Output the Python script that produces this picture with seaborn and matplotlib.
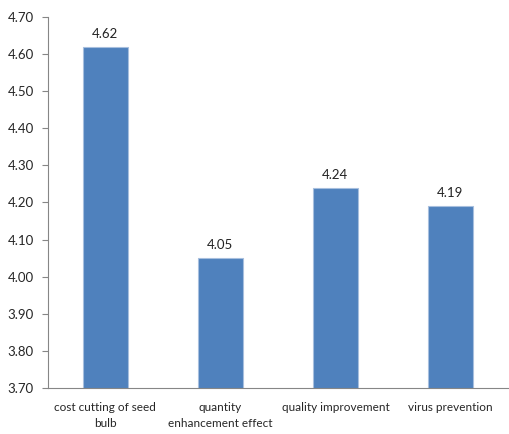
import matplotlib
matplotlib.use("Agg")
import matplotlib.pyplot as plt
import seaborn as sns
import pandas as pd
import numpy as np

# Data
categories = ["cost cutting of seed\nbulb", "quantity\nenhancement effect",
              "quality improvement", "virus prevention"]
scores = [4.62, 4.05, 4.24, 4.19]

df = pd.DataFrame({"Category": categories, "Score": scores})

sns.set_style("white")
plt.rcParams["font.family"] = ["Lato", "DejaVu Sans"]
plt.rcParams["text.color"] = "#222222"

fig = plt.figure(figsize=(5.09, 4.34), dpi=100)
ax = fig.add_axes([0.094, 0.106, 0.904, 0.855])

sns.barplot(df, x="Category", y="Score", color="#4F81BD", width=0.39,
            edgecolor="#A7BFDE", linewidth=0.8, saturation=1, ax=ax)

ax.set_ylim(3.70, 4.70)
ax.set_xlim(-0.5, 3.5)
yticks = np.arange(3.70, 4.701, 0.10)
ax.set_yticks(yticks)
ax.set_yticklabels([f"{v:.2f}" for v in yticks], fontsize=9.5)

# Category tick marks sit between the bars
ax.set_xticks(np.arange(-0.5, 3.6, 1.0), minor=True)
ax.tick_params(axis="x", which="major", length=0, labelsize=8.5, pad=10)
ax.tick_params(axis="x", which="minor", length=4, color="#868686", direction="out")
ax.tick_params(axis="y", length=4, color="#868686", direction="out", left=True, pad=6)
for lab in ax.get_xticklabels():
    lab.set_linespacing(1.6)
ax.set_xlabel(None)
ax.set_ylabel(None)

for side in ["top", "right"]:
    ax.spines[side].set_visible(False)
for side in ["left", "bottom"]:
    ax.spines[side].set_color("#868686")
    ax.spines[side].set_linewidth(0.8)

for i, v in enumerate(scores):
    ax.text(i, v + 0.018, f"{v:.2f}", ha="center", va="bottom", fontsize=9.5)

plt.savefig("out.png", dpi=100)
plt.close()
